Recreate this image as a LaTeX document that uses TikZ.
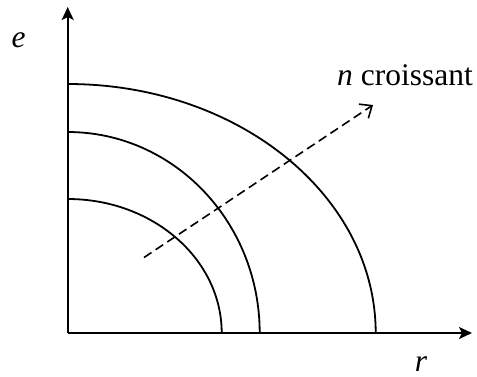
\documentclass[tikz,border=0pt]{standalone}
\usepackage{fontspec}
\setmainfont{Liberation Serif}
\usetikzlibrary{arrows.meta}
\begin{document}
\begin{tikzpicture}[x=1pt,y=-1pt,
  axis/.style={line width=2pt,-{Stealth[length=13pt,width=12pt,inset=3pt]}},
  curve/.style={line width=1.8pt},
  trend/.style={line width=1.6pt,dash pattern=on 9pt off 5pt,-{Straight Barb[length=10pt,width=17pt,line width=1.6pt]}},
  lab/.style={inner sep=0pt,font=\fontsize{31.5}{37}\selectfont}]
\useasboundingbox (0,0) rectangle (477,376);
\coordinate (O) at (67.7,333);
\coordinate (Y) at (67.7,7);
\coordinate (X) at (472,333);
\draw[curve] (O) ++(154,0) arc[start angle=0,end angle=-90,x radius=154,y radius=134];
\draw[curve] (O) ++(192,0) arc[start angle=0,end angle=-90,x radius=192,y radius=201];
\draw[curve] (O) ++(308,0) arc[start angle=0,end angle=-90,x radius=308,y radius=249];
\draw[axis] (O) -- (Y);
\draw[axis] (O) -- (X);
\coordinate (A) at (144,257.5);
\coordinate (B) at (373,105);
\draw[trend] (A) -- (B);
\node[lab,anchor=base west] (n) at (337,85) {\textit{n} croissant};
\node[lab,anchor=base] (e) at (18.5,47) {\textit{e}};
\node[lab,anchor=base] (r) at (421,371) {\textit{r}};
\end{tikzpicture}
\end{document}
